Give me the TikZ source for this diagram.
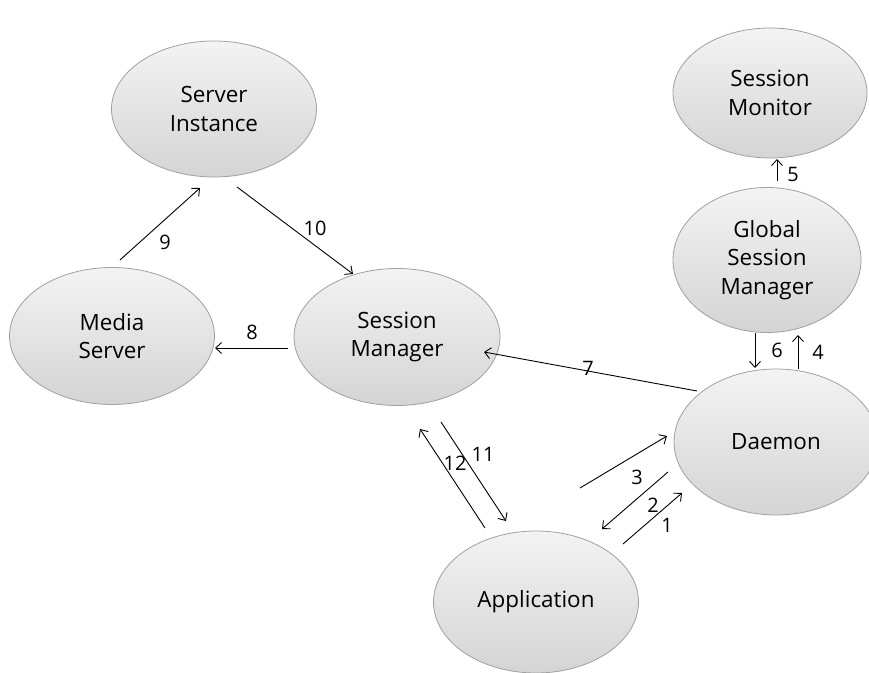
\documentclass[tikz,border=0pt]{standalone}
\usepackage{fontspec}
\setmainfont{Open Sans}
\usetikzlibrary{shapes.geometric,arrows.meta}
\definecolor{procline}{HTML}{A0A0A0}
\definecolor{proctop}{HTML}{F3F3F3}
\definecolor{procbot}{HTML}{D4D4D4}
\tikzset{
  proc/.style={ellipse,draw=procline,line width=0.8bp,top color=proctop,bottom color=procbot,
    inner sep=0pt,align=center,font=\fontsize{22.5}{28.5}\selectfont},
  msg/.style={black,-{Straight Barb[length=6bp,width=11bp]},line width=0.9bp},
  num/.style={inner sep=0pt,font=\fontsize{20}{21}\selectfont},
}
\begin{document}
\begin{tikzpicture}[line join=bevel,]
\useasboundingbox (0bp,0bp) rectangle (869bp,673bp);
%%
\node (inst) at (214bp,564bp) [proc,minimum width=205bp,minimum height=136bp] {Server\\Instance};
  \node (mon) at (770bp,580bp) [proc,minimum width=194bp,minimum height=130bp] {Session\\Monitor};
  \node (gsm) at (767bp,413bp) [proc,minimum width=188bp,minimum height=145bp] {Global\\Session\\Manager};
  \node (daemon) at (776bp,231bp) [proc,minimum width=204bp,minimum height=146bp] {Daemon};
  \node (sm) at (397bp,336bp) [proc,minimum width=206bp,minimum height=137bp] {Session\\Manager};
  \node (media) at (112bp,337bp) [proc,minimum width=205bp,minimum height=137bp] {Media\\Server};
  \node (app) at (536bp,71bp) [proc,minimum width=205bp,minimum height=142bp] {Application};
%
\coordinate (m1a) at (623bp,129bp);  \coordinate (m1b) at (682bp,180bp);
  \coordinate (m2a) at (668bp,201bp);  \coordinate (m2b) at (602bp,144bp);
  \coordinate (m3a) at (580bp,185bp);  \coordinate (m3b) at (667bp,237bp);
  \coordinate (m4a) at (798bp,304bp);  \coordinate (m4b) at (798bp,338bp);
  \coordinate (m5a) at (777bp,492bp);  \coordinate (m5b) at (777bp,514bp);
  \coordinate (m6a) at (755bp,340bp);  \coordinate (m6b) at (755bp,305bp);
  \coordinate (m7a) at (697bp,282bp);  \coordinate (m7b) at (484bp,321bp);
  \coordinate (m8a) at (288bp,325bp);  \coordinate (m8b) at (215bp,325bp);
  \coordinate (m9a) at (120bp,413bp);  \coordinate (m9b) at (200bp,485bp);
  \coordinate (m10a) at (237bp,486bp); \coordinate (m10b) at (353bp,399bp);
  \coordinate (m11a) at (441bp,251bp); \coordinate (m11b) at (506bp,152bp);
  \coordinate (m12a) at (485bp,145bp); \coordinate (m12b) at (420bp,244bp);
%
\draw [msg] (m1a) -- (m1b);
  \draw [msg] (m2a) -- (m2b);
  \draw [msg] (m3a) -- (m3b);
  \draw [msg] (m4a) -- (m4b);
  \draw [msg] (m5a) -- (m5b);
  \draw [msg] (m6a) -- (m6b);
  \draw [msg] (m7a) -- (m7b);
  \draw [msg] (m8a) -- (m8b);
  \draw [msg] (m9a) -- (m9b);
  \draw [msg] (m10a) -- (m10b);
  \draw [msg] (m11a) -- (m11b);
  \draw [msg] (m12a) -- (m12b);
%
\node (l1) at (667bp,148bp) [num] {1};
  \node (l2) at (653bp,168bp) [num] {2};
  \node (l3) at (637bp,196bp) [num] {3};
  \node (l4) at (818bp,321bp) [num] {4};
  \node (l5) at (793bp,499bp) [num] {5};
  \node (l6) at (777bp,323bp) [num] {6};
  \node (l7) at (588bp,305bp) [num] {7};
  \node (l8) at (252bp,341bp) [num] {8};
  \node (l9) at (165bp,431bp) [num] {9};
  \node (l10) at (315bp,445bp) [num] {10};
  \node (l11) at (483bp,219bp) [num] {11};
  \node (l12) at (455bp,210bp) [num] {12};
%
\end{tikzpicture}
\end{document}
